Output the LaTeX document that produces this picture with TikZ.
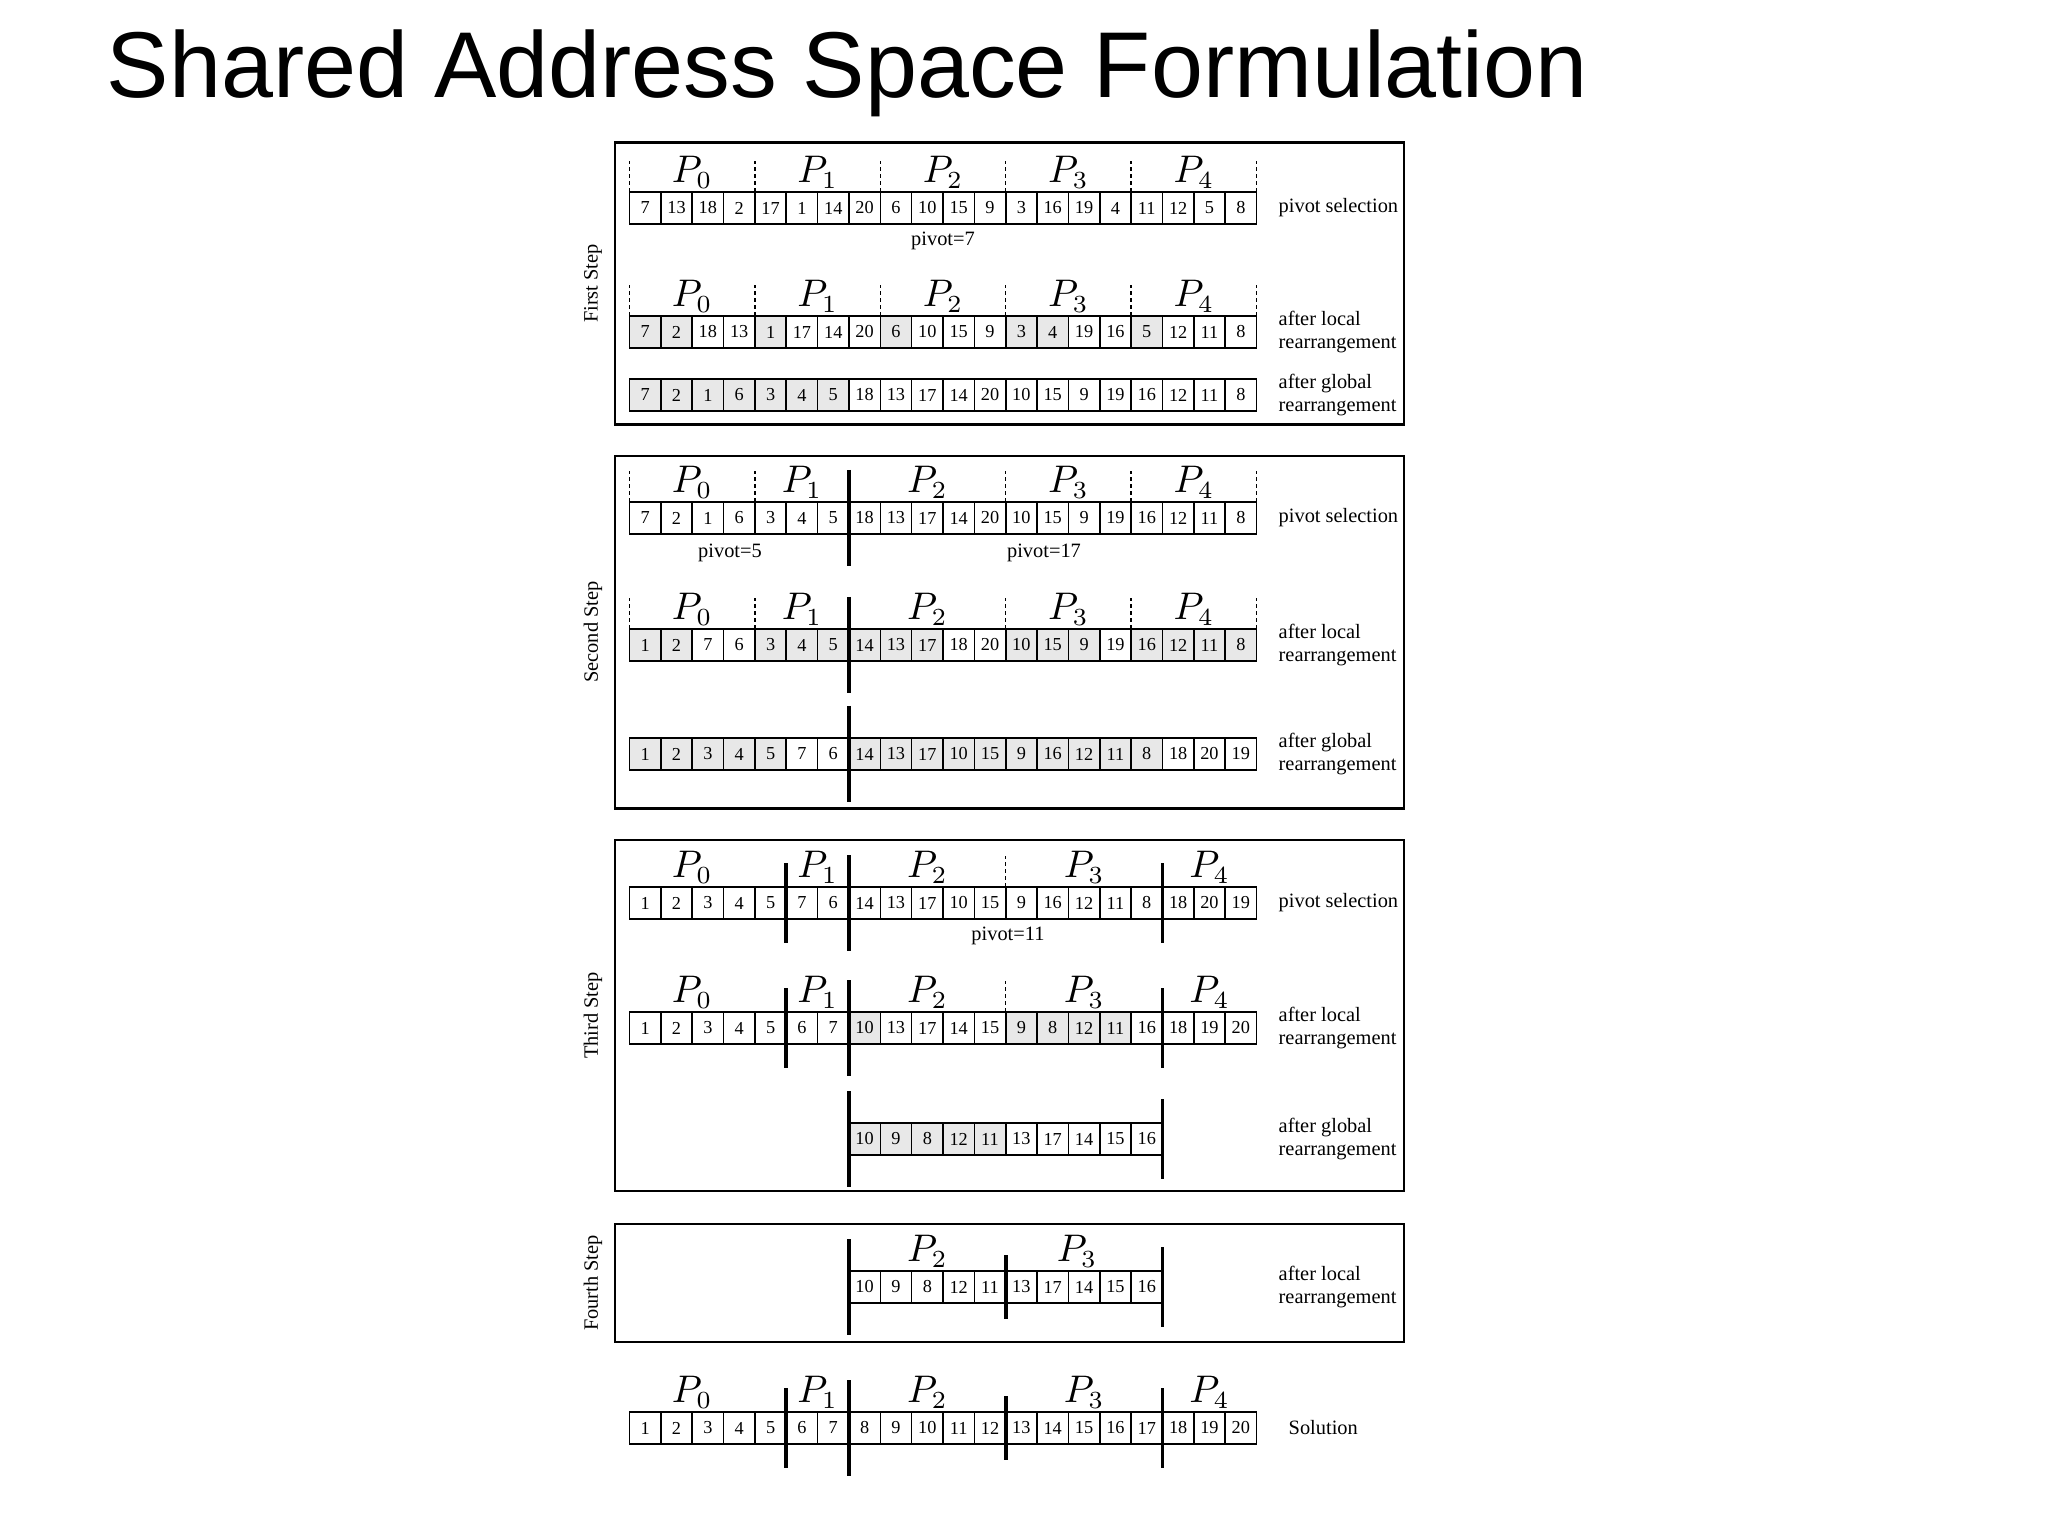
\documentclass[tikz,border=0pt]{standalone}
\usepackage[no-math]{fontspec}
\setmainfont{Liberation Serif}
\newfontfamily\titlefont{Liberation Sans}

% Left edge of the arrays and width of one cell (cm)
\newcommand{\rowx}{6.295}
\newcommand{\cellw}{0.3135}

% One array of cells: name, y, index of first cell, values
\newcommand{\cellrow}[4]{%
  \foreach \v [count=\k from #3] in {#4}
    \node[cell] (#1-\k) at ({\rowx+(\k+0.5)*\cellw},#2) {\v};
}
% Grey background of marked cells: y, indices
\newcommand{\greycells}[2]{%
  \foreach \k in {#2}
    \fill[hicell] ({\rowx+\k*\cellw},{#1-0.16}) rectangle ++(\cellw,0.32);
}

\begin{document}
\begin{tikzpicture}[
    % Styles
    cell/.style={ % One array element
        rectangle,
        draw,
        line width=0.45pt,
        minimum width=0.3135cm,
        minimum height=0.32cm,
        inner sep=0pt,
        outer sep=0pt,
        font=\fontsize{5.2}{6}\selectfont
    },
    hicell/.style={ % Marked element
        fill=gray!18
    },
    proc/.style={ % Processor label
        inner sep=0pt,
        font=\fontsize{10.5}{12}\selectfont
    },
    sepline/.style={ % Border between processors
        line width=0.4pt,
        dash pattern=on 1pt off 1pt
    },
    bar/.style={ % Fixed split of the array
        line width=1.1pt
    },
    note/.style={ % Text right of an array
        anchor=west,
        align=left,
        inner sep=0pt,
        font=\fontsize{5.8}{6.6}\selectfont
    },
    pivotlbl/.style={ % Pivot value
        inner sep=0pt,
        font=\fontsize{5.8}{6.6}\selectfont
    },
    steplbl/.style={ % Name of a step
        rotate=90,
        inner sep=0pt,
        font=\fontsize{5.8}{6.6}\selectfont
    },
    stepbox/.style={ % Frame round a step
        draw,
        line width=0.7pt,
        inner sep=0pt
    }
]
    \useasboundingbox (0,0) rectangle (20.48,-15.36);

    % Title
    \node[anchor=base west, inner sep=0pt, font=\titlefont\fontsize{26.6}{30}\selectfont]
        (title) at (1.06,-0.98) {Shared Address Space Formulation};

    % First step
    \node[stepbox, minimum width=7.888cm, minimum height=2.82cm] (box1) at (10.096,-2.835) {};
    \node[steplbl] (step1) at (5.93,-2.835) {First Step};

    \cellrow{b1a}{-2.08}{0}{7,13,18,2,17,1,14,20,6,10,15,9,3,16,19,4,11,12,5,8}
    \foreach \k in {0,4,8,12,16} \draw[sepline] (b1a-\k.north west) -- ++(0,0.31);
    \draw[sepline] (b1a-19.north east) -- ++(0,0.31);
    \foreach \x [count=\p from 0] in {6.922,8.176,9.430,10.684,11.938}
        \node[proc] (b1a-p\p) at (\x,-1.72) {$P_{\p}$};
    \node[note] (b1a-note) at (12.78,-2.08) {pivot selection};
    \node[pivotlbl] (b1a-pivot) at (9.43,-2.41) {pivot=7};

    \greycells{-3.32}{0,1,4,8,12,13,16}
    \cellrow{b1b}{-3.32}{0}{7,2,18,13,1,17,14,20,6,10,15,9,3,4,19,16,5,12,11,8}
    \foreach \k in {0,4,8,12,16} \draw[sepline] (b1b-\k.north west) -- ++(0,0.31);
    \draw[sepline] (b1b-19.north east) -- ++(0,0.31);
    \foreach \x [count=\p from 0] in {6.922,8.176,9.430,10.684,11.938}
        \node[proc] (b1b-p\p) at (\x,-2.96) {$P_{\p}$};
    \node[note] (b1b-note) at (12.78,-3.32) {after local\\rearrangement};

    \greycells{-3.95}{0,...,6}
    \cellrow{b1c}{-3.95}{0}{7,2,1,6,3,4,5,18,13,17,14,20,10,15,9,19,16,12,11,8}
    \node[note] (b1c-note) at (12.78,-3.95) {after global\\rearrangement};

    % Second step
    \node[stepbox, minimum width=7.888cm, minimum height=3.527cm] (box2) at (10.096,-6.3215) {};
    \node[steplbl] (step2) at (5.93,-6.32) {Second Step};

    \cellrow{b2a}{-5.18}{0}{7,2,1,6,3,4,5,18,13,17,14,20,10,15,9,19,16,12,11,8}
    \foreach \k in {0,4,12,16} \draw[sepline] (b2a-\k.north west) -- ++(0,0.31);
    \draw[sepline] (b2a-19.north east) -- ++(0,0.31);
    \draw[bar] (b2a-7.west) ++(0,0.48) -- ++(0,-0.96);
    \foreach \x [count=\p from 0] in {6.922,8.02,9.274,10.684,11.938}
        \node[proc] (b2a-p\p) at (\x,-4.82) {$P_{\p}$};
    \node[note] (b2a-note) at (12.78,-5.18) {pivot selection};
    \node[pivotlbl] (b2a-pivot1) at (7.30,-5.53) {pivot=5};
    \node[pivotlbl] (b2a-pivot2) at (10.44,-5.53) {pivot=17};

    \greycells{-6.45}{0,1,4,5,6,7,8,9,12,13,14,16,17,18,19}
    \cellrow{b2b}{-6.45}{0}{1,2,7,6,3,4,5,14,13,17,18,20,10,15,9,19,16,12,11,8}
    \foreach \k in {0,4,12,16} \draw[sepline] (b2b-\k.north west) -- ++(0,0.31);
    \draw[sepline] (b2b-19.north east) -- ++(0,0.31);
    \draw[bar] (b2b-7.west) ++(0,0.48) -- ++(0,-0.96);
    \foreach \x [count=\p from 0] in {6.922,8.02,9.274,10.684,11.938}
        \node[proc] (b2b-p\p) at (\x,-6.09) {$P_{\p}$};
    \node[note] (b2b-note) at (12.78,-6.45) {after local\\rearrangement};

    \greycells{-7.54}{0,...,4,7,8,...,16}
    \cellrow{b2c}{-7.54}{0}{1,2,3,4,5,7,6,14,13,17,10,15,9,16,12,11,8,18,20,19}
    \draw[bar] (b2c-7.west) ++(0,0.48) -- ++(0,-0.96);
    \node[note] (b2c-note) at (12.78,-7.54) {after global\\rearrangement};

    % Third step
    \node[stepbox, minimum width=7.888cm, minimum height=3.51cm] (box3) at (10.096,-10.155) {};
    \node[steplbl] (step3) at (5.93,-10.155) {Third Step};

    \cellrow{b3a}{-9.03}{0}{1,2,3,4,5,7,6,14,13,17,10,15,9,16,12,11,8,18,20,19}
    \draw[sepline] (b3a-12.north west) -- ++(0,0.31);
    \draw[bar] (b3a-5.west) ++(0,0.40) -- ++(0,-0.80);
    \draw[bar] (b3a-7.west) ++(0,0.48) -- ++(0,-0.96);
    \draw[bar] (b3a-17.west) ++(0,0.40) -- ++(0,-0.80);
    \foreach \x [count=\p from 0] in {6.922,8.177,9.274,10.841,12.095}
        \node[proc] (b3a-p\p) at (\x,-8.67) {$P_{\p}$};
    \node[note] (b3a-note) at (12.78,-9.03) {pivot selection};
    \node[pivotlbl] (b3a-pivot) at (10.08,-9.36) {pivot=11};

    \greycells{-10.28}{7,12,13,14,15}
    \cellrow{b3b}{-10.28}{0}{1,2,3,4,5,6,7,10,13,17,14,15,9,8,12,11,16,18,19,20}
    \draw[sepline] (b3b-12.north west) -- ++(0,0.31);
    \draw[bar] (b3b-5.west) ++(0,0.40) -- ++(0,-0.80);
    \draw[bar] (b3b-7.west) ++(0,0.48) -- ++(0,-0.96);
    \draw[bar] (b3b-17.west) ++(0,0.40) -- ++(0,-0.80);
    \foreach \x [count=\p from 0] in {6.922,8.177,9.274,10.841,12.095}
        \node[proc] (b3b-p\p) at (\x,-9.92) {$P_{\p}$};
    \node[note] (b3b-note) at (12.78,-10.28) {after local\\rearrangement};

    \greycells{-11.39}{7,...,11}
    \cellrow{b3c}{-11.39}{7}{10,9,8,12,11,13,17,14,15,16}
    \draw[bar] (b3c-7.west) ++(0,0.48) -- ++(0,-0.96);
    \draw[bar] (b3c-16.east) ++(0,0.40) -- ++(0,-0.80);
    \node[note] (b3c-note) at (12.78,-11.39) {after global\\rearrangement};

    % Fourth step
    \node[stepbox, minimum width=7.888cm, minimum height=1.18cm] (box4) at (10.096,-12.83) {};
    \node[steplbl] (step4) at (5.93,-12.83) {Fourth Step};

    \cellrow{b4a}{-12.87}{7}{10,9,8,12,11,13,17,14,15,16}
    \draw[bar] (b4a-7.west) ++(0,0.48) -- ++(0,-0.96);
    \draw[bar] (b4a-12.west) ++(0,0.32) -- ++(0,-0.64);
    \draw[bar] (b4a-16.east) ++(0,0.40) -- ++(0,-0.80);
    \node[proc] (b4a-p2) at (9.274,-12.51) {$P_2$};
    \node[proc] (b4a-p3) at (10.77,-12.51) {$P_3$};
    \node[note] (b4a-note) at (12.78,-12.87) {after local\\rearrangement};

    % Solution
    \cellrow{sol}{-14.28}{0}{1,2,3,4,5,6,7,8,9,10,11,12,13,14,15,16,17,18,19,20}
    \draw[bar] (sol-5.west) ++(0,0.40) -- ++(0,-0.80);
    \draw[bar] (sol-7.west) ++(0,0.48) -- ++(0,-0.96);
    \draw[bar] (sol-12.west) ++(0,0.32) -- ++(0,-0.64);
    \draw[bar] (sol-17.west) ++(0,0.40) -- ++(0,-0.80);
    \foreach \x [count=\p from 0] in {6.922,8.177,9.274,10.841,12.095}
        \node[proc] (sol-p\p) at (\x,-13.92) {$P_{\p}$};
    \node[note] (sol-note) at (12.88,-14.28) {Solution};
\end{tikzpicture}
\end{document}
